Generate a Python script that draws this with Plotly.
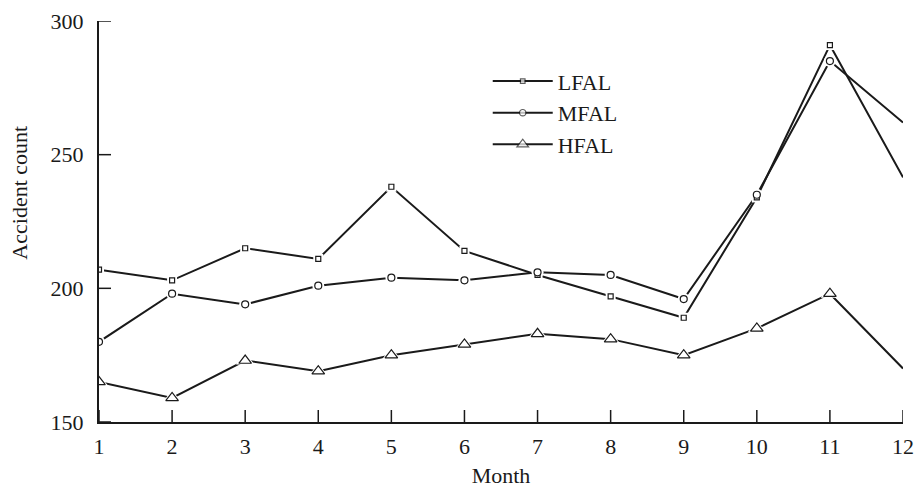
import plotly.graph_objects as go

months = list(range(1, 13))
lfal = [207, 203, 215, 211, 238, 214, 205, 197, 189, 234, 291, 241.5]
mfal = [180, 198, 194, 201, 204, 203, 206, 205, 196, 235, 285, 262]
hfal = [165, 159, 173, 169, 175, 179, 183, 181, 175, 185, 198, 170]
series_names = ["LFAL", "MFAL", "HFAL"]
series_vals = [lfal, mfal, hfal]
y_ticks = [150, 200, 250, 300]
sym_fill = ["square", "circle", "triangle-up"]
sizes = [5, 7, 11]

ink = "#1a1a1a"
font = dict(family="Liberation Serif, Times New Roman, serif", size=22, color=ink)

W, H = 915, 488
M = dict(l=99, r=12, t=21, b=66)
plot_w = W - M["l"] - M["r"]
plot_h = H - M["t"] - M["b"]
tick_len = 12

fig = go.Figure()
# markers shown at months 1..11 only (last point has no marker)
mk_x = months[:-1]

for name, vals, sym, sz in zip(series_names, series_vals, sym_fill, sizes):
    fig.add_trace(go.Scatter(
        x=months, y=vals, mode="lines+markers", name=name,
        line=dict(color=ink, width=2),
        marker=dict(symbol=sym, size=[sz] * (len(vals) - 1) + [0], color="white",
                    line=dict(color=ink, width=1.2)),
        showlegend=True,
    ))
# white halos to create gaps around markers
for vals, sym, sz in zip(series_vals, sym_fill, sizes):
    fig.add_trace(go.Scatter(
        x=mk_x, y=vals[:-1], mode="markers", showlegend=False, hoverinfo="skip",
        marker=dict(symbol=sym, size=sz + 5, color="white", line=dict(width=0)),
    ))
for vals, sym, sz in zip(series_vals, sym_fill, sizes):
    fig.add_trace(go.Scatter(
        x=mk_x, y=vals[:-1], mode="markers", showlegend=False, hoverinfo="skip",
        marker=dict(symbol=sym, size=sz, color="white", line=dict(color=ink, width=1.2)),
    ))

# inward tick marks
shapes = []
for m in months:
    shapes.append(dict(type="line", xref="x", yref="paper", x0=m, x1=m,
                       y0=0, y1=tick_len / plot_h, line=dict(color=ink, width=1.5)))
for v in y_ticks:
    shapes.append(dict(type="line", xref="paper", yref="y", x0=0, x1=tick_len / plot_w,
                       y0=v, y1=v, line=dict(color=ink, width=1.5)))

fig.update_layout(
    width=W, height=H,
    margin=M,
    paper_bgcolor="white", plot_bgcolor="white",
    font=font,
    showlegend=True,
    shapes=shapes,
    legend=dict(x=0.4835, y=0.902, xanchor="left", yanchor="top",
                bgcolor="rgba(0,0,0,0)", font=font, itemwidth=60,
                tracegroupgap=0),
    xaxis=dict(range=[1, 12], tickvals=months,
               ticks="outside", ticklen=4, tickcolor="rgba(0,0,0,0)",
               showline=True, linecolor=ink, linewidth=2, showgrid=False,
               zeroline=False, automargin=False,
               title=dict(text="Month", font=font, standoff=9),
               tickfont=font),
    yaxis=dict(range=[150, 300], tickvals=y_ticks,
               ticks="outside", ticklen=9, tickcolor="rgba(0,0,0,0)",
               showline=True, linecolor=ink, linewidth=2, showgrid=False,
               zeroline=False, automargin=False,
               tickfont=font),
    annotations=[dict(text="Accident count", xref="paper", yref="paper",
                      x=-0.1, y=0.571, textangle=-90, showarrow=False,
                      font=font, xanchor="center", yanchor="middle")],
)

fig.write_html("out.html")
